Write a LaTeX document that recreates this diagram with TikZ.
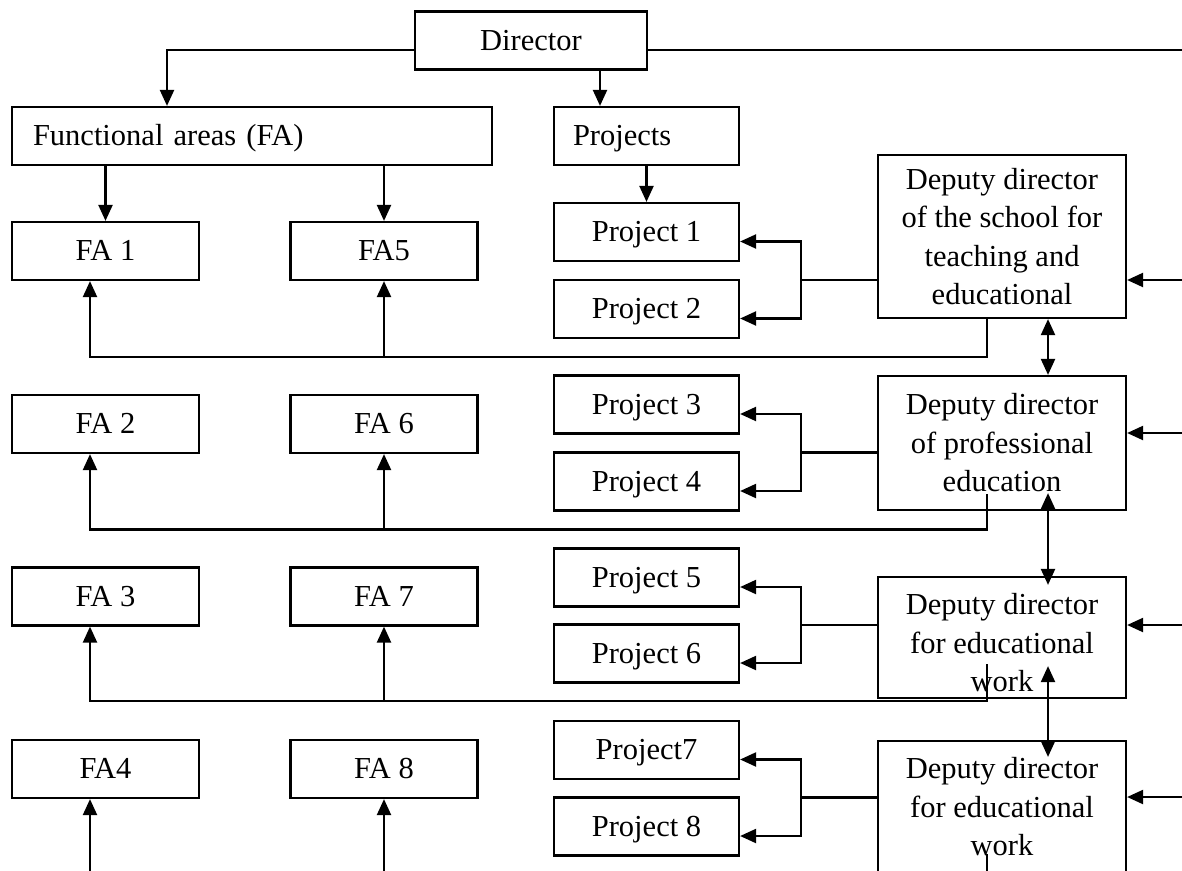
\documentclass[tikz,border=0pt]{standalone}
\usepackage{fontspec}
\setmainfont{Liberation Serif}
\usetikzlibrary{arrows.meta,calc}
\begin{document}
\begin{tikzpicture}[x=1pt,y=-1pt,
  line width=2.2pt,
  box/.style={draw, line width=2.2pt, inner sep=0pt, align=center,
    font=\fontsize{30.5}{38.5}\selectfont},
  sl/.style={text height=19pt, text depth=0pt, minimum height=58pt},
  fabox/.style={box, sl, minimum width=187pt},
  pbox/.style={box, sl, minimum width=185pt},
  dbox/.style={box, minimum width=248pt},
  arr/.style={-{Triangle[length=16pt,width=14pt]}},
  darr/.style={{Triangle[length=16pt,width=14pt]}-{Triangle[length=16pt,width=14pt]}},
]
\useasboundingbox (0,0) rectangle (1182,870);

% top
\node[box, sl, minimum width=232pt] (dir) at (531,40.5) {Director};
\node[box, sl, text width=438pt, align=left, inner xsep=21pt] (fa) at (252,136) {Functional areas (FA)};
\node[box, sl, text width=147pt, align=left, inner xsep=19pt] (proj) at (646.5,136) {Projects};

% functional areas
\node[fabox] (fa1) at (105.5,251) {FA 1};
\node[fabox] (fa5) at (384,251) {FA5};
\node[fabox] (fa2) at (105.5,424) {FA 2};
\node[fabox] (fa6) at (384,424) {FA 6};
\node[fabox] (fa3) at (105.5,596.5) {FA 3};
\node[fabox] (fa7) at (384,596.5) {FA 7};
\node[fabox] (fa4) at (105.5,769) {FA4};
\node[fabox] (fa8) at (384,769) {FA 8};

% projects
\node[pbox] (p1) at (646.5,232) {Project 1};
\node[pbox] (p2) at (646.5,309) {Project 2};
\node[pbox] (p3) at (646.5,404.5) {Project 3};
\node[pbox] (p4) at (646.5,481.5) {Project 4};
\node[pbox] (p5) at (646.5,577.5) {Project 5};
\node[pbox] (p6) at (646.5,653.5) {Project 6};
\node[pbox] (p7) at (646.5,750) {Project7};
\node[pbox] (p8) at (646.5,826.5) {Project 8};

% deputies
\node[dbox, minimum height=163pt] (d1) at (1002,236.5) {Deputy director\\of the school for\\teaching and\\educational};
\node[dbox, minimum height=134pt] (d2) at (1002,443) {Deputy director\\of professional\\education};
\node[dbox, minimum height=121pt, text height=109pt] (d3) at (1002,637.5) {Deputy director\\for educational\\work};
\node[dbox, minimum height=132pt] (d4) at (1002,807) {Deputy director\\for educational\\work};

% helper coordinates
\coordinate (yDir) at (0,50);
\coordinate (xFA) at (167,0);
\coordinate (xPr) at (600,0);
\coordinate (E0) at (1182,50);
\coordinate (R1) at (1182,280);
\coordinate (R2) at (1182,433);
\coordinate (R3) at (1182,625);
\coordinate (R4) at (1182,797);
\coordinate (B1) at (801,280);
\coordinate (B2) at (801,452.5);
\coordinate (B3) at (801,625);
\coordinate (B4) at (801,797.5);
\coordinate (x90) at (90,0);
\coordinate (xL) at (987,0);
\coordinate (xD) at (1048,0);
\coordinate (L1) at (0,357);
\coordinate (L2) at (0,529.5);
\coordinate (L3) at (0,701);
\coordinate (Bot) at (0,876);

% director connectors
\draw[arr] (dir.west |- yDir) -| (fa.north -| xFA);
\draw[arr] (dir.south -| xPr) -- (proj.north -| xPr);
\draw (dir.east |- yDir) -- (E0);

% FA box to FA1, FA5
\draw[arr] (fa.south -| fa1.north) -- (fa1.north);
\draw[arr] (fa.south -| fa5.north) -- (fa5.north);
% Projects to Project 1
\draw[arr] (proj.south) -- (p1.north);

% right side arrows
\draw[arr] (R1) -- (d1.east |- R1);
\draw[arr] (R2) -- (d2.east |- R2);
\draw[arr] (R3) -- (d3.east |- R3);
\draw[arr] (R4) -- (d4.east |- R4);

% brackets to projects
\draw[arr] (d1.west |- B1) -- (B1) |- ([yshift=-9.5pt]p1.east);
\draw[arr] (B1) |- ([yshift=-9.5pt]p2.east);
\draw[arr] (d2.west |- B2) -- (B2) |- ([yshift=-9.5pt]p3.east);
\draw[arr] (B2) |- ([yshift=-9.5pt]p4.east);
\draw[arr] (d3.west |- B3) -- (B3) |- ([yshift=-9.5pt]p5.east);
\draw[arr] (B3) |- ([yshift=-9.5pt]p6.east);
\draw[arr] (d4.west |- B4) -- (B4) |- ([yshift=-9.5pt]p7.east);
\draw[arr] (B4) |- ([yshift=-9.5pt]p8.east);

% deputies to functional areas
\draw[arr] (d1.south -| xL) |- (x90 |- L1) -- (fa1.south -| x90);
\draw[arr] (fa5.south |- L1) -- (fa5.south);
\draw[arr] ($(d2.south -| xL)+(0,-17)$) |- (x90 |- L2) -- (fa2.south -| x90);
\draw[arr] (fa6.south |- L2) -- (fa6.south);
\draw[arr] ($(d3.south -| xL)+(0,-35)$) |- (x90 |- L3) -- (fa3.south -| x90);
\draw[arr] (fa7.south |- L3) -- (fa7.south);
\draw ($(d4.north -| xL)+(0,114)$) -- (xL |- Bot);
\draw[arr] (x90 |- Bot) -- (fa4.south -| x90);
\draw[arr] (fa8.south |- Bot) -- (fa8.south);

% deputies among themselves
\draw[darr] (d1.south -| xD) -- (d2.north -| xD);
\draw[darr] ($(d2.south -| xD)+(0,-18)$) -- ($(d3.north -| xD)+(0,9)$);
\draw[darr] ($(d3.south -| xD)+(0,-33)$) -- ($(d4.north -| xD)+(0,17)$);
\end{tikzpicture}
\end{document}
